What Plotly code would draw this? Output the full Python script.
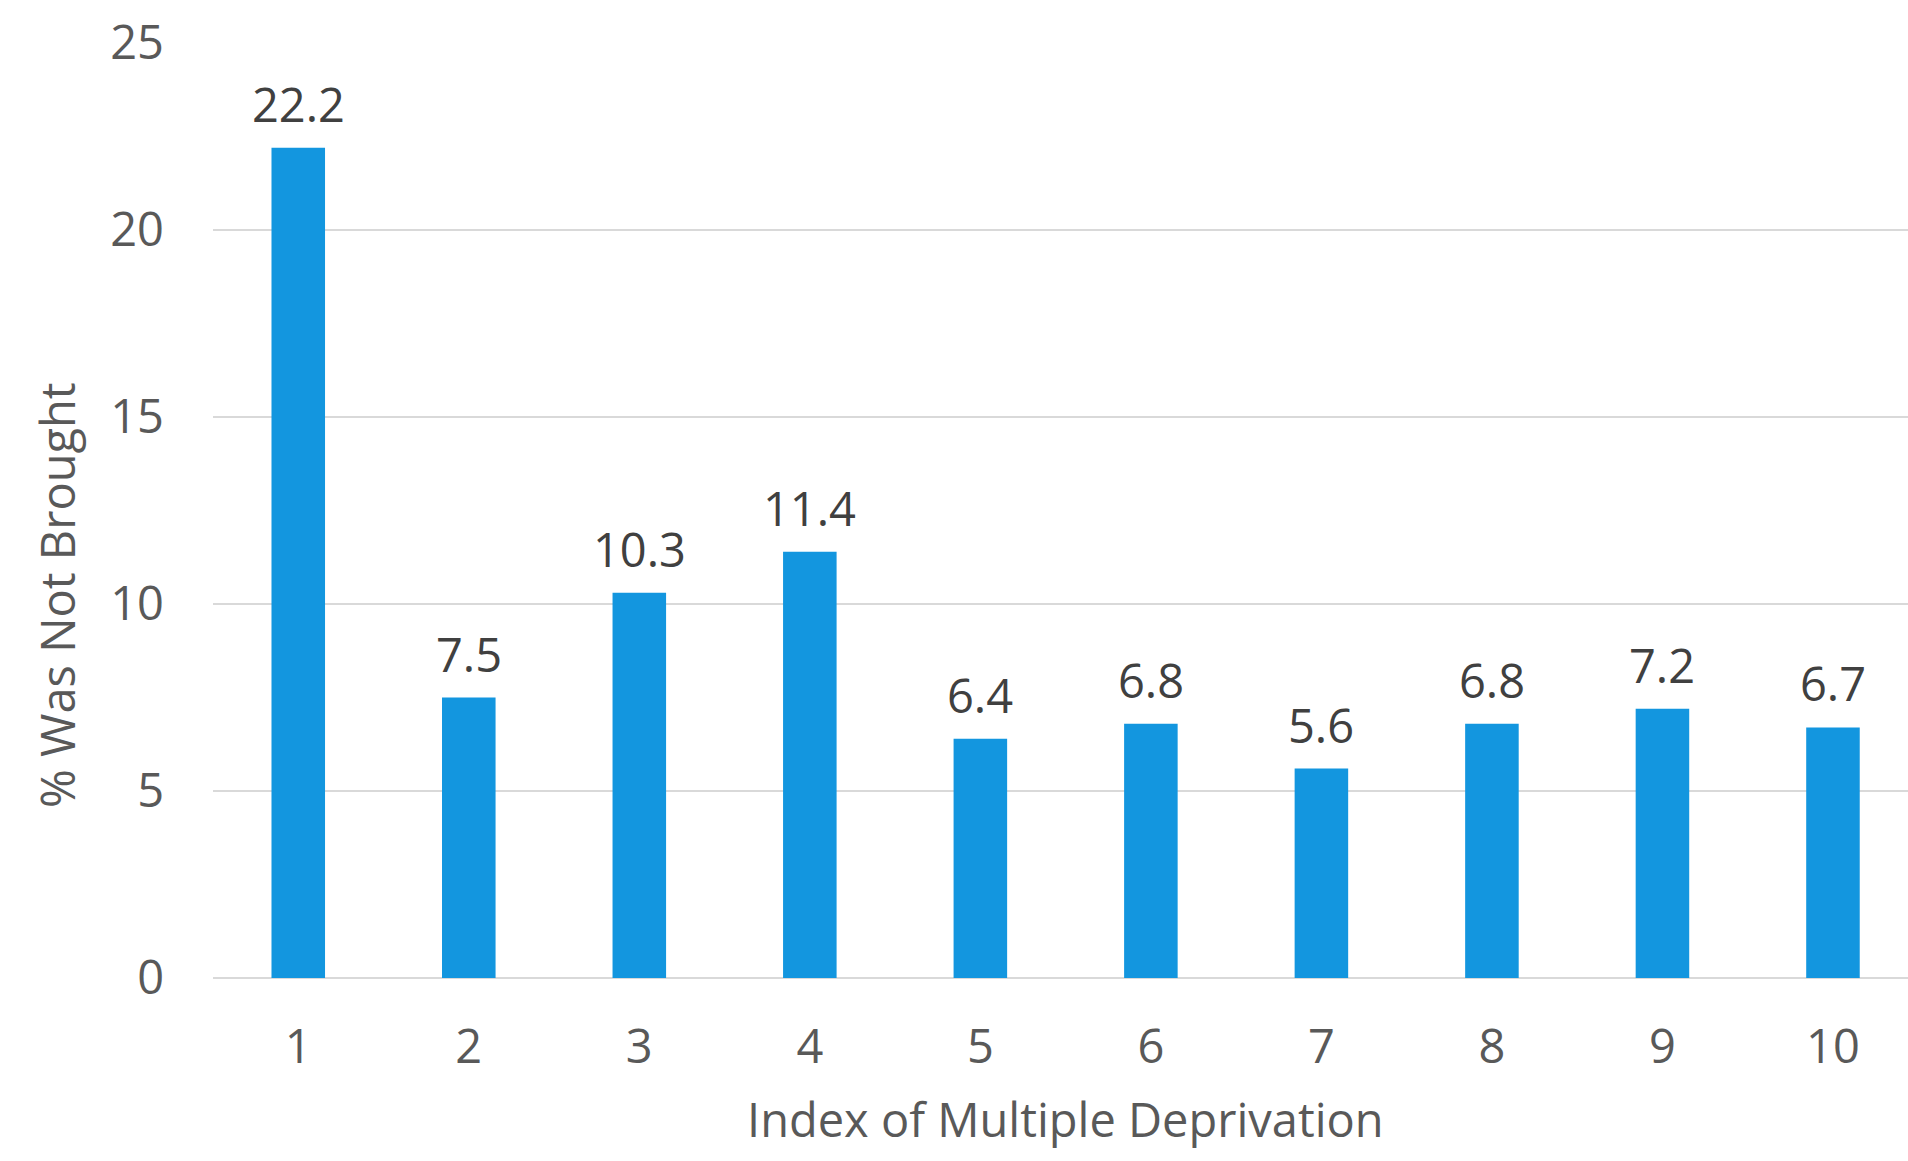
import plotly.graph_objects as go

# Index of Multiple Deprivation deciles and the share of appointments "Was Not Brought"
deciles = ["1", "2", "3", "4", "5", "6", "7", "8", "9", "10"]
pct_not_brought = [22.2, 7.5, 10.3, 11.4, 6.4, 6.8, 5.6, 6.8, 7.2, 6.7]
y_ticks = [0, 5, 10, 15, 20, 25]

W, H = 1908, 1161
L, T, B = 213, 43, 183

FONT = "Open Sans"
FS = 47
TICK_GREY = "#595959"
LABEL_GREY = "#404040"
BAR_BLUE = "#1396DF"

fig = go.Figure(
    go.Bar(
        x=list(range(len(deciles))),
        y=pct_not_brought,
        width=0.314,
        marker=dict(color=BAR_BLUE, line=dict(width=0)),
        hoverinfo="skip",
    )
)

# value labels above each bar
for i, v in enumerate(pct_not_brought):
    fig.add_annotation(
        x=i, y=v, text=f"{v}", showarrow=False,
        xanchor="center", yanchor="bottom", yshift=10,
        font=dict(family=FONT, size=FS, color=LABEL_GREY),
    )

# axis titles
fig.add_annotation(
    xref="paper", yref="paper",
    x=(1065 - L) / (W - L), y=1 - (1119 - T) / (H - T - B),
    text="Index of Multiple Deprivation", showarrow=False,
    xanchor="center", yanchor="middle",
    font=dict(family=FONT, size=FS, color=TICK_GREY),
)
fig.add_annotation(
    xref="paper", yref="paper",
    x=(57 - L) / (W - L), y=1 - (595 - T) / (H - T - B),
    text="% Was Not Brought", showarrow=False, textangle=-90,
    xanchor="center", yanchor="middle",
    font=dict(family=FONT, size=FS, color=TICK_GREY),
)

fig.update_layout(
    width=W, height=H,
    margin=dict(l=L, r=0, t=T, b=B, pad=0),
    paper_bgcolor="white", plot_bgcolor="white",
    showlegend=False,
    font=dict(family=FONT, size=FS, color=TICK_GREY),
    xaxis=dict(
        tickmode="array",
        tickvals=list(range(len(deciles))),
        ticktext=deciles,
        range=[-0.5, 9.44],
        showgrid=False, zeroline=False,
        showline=False, ticks="",
        ticklabelstandoff=37,
        tickfont=dict(family=FONT, size=FS, color=TICK_GREY),
        fixedrange=True,
    ),
    yaxis=dict(
        range=[0, 25],
        tickmode="array", tickvals=y_ticks,
        showgrid=True, gridcolor="#D9D9D9", gridwidth=2,
        zeroline=True, zerolinecolor="#D9D9D9", zerolinewidth=2,
        showline=False, ticks="",
        ticklabelstandoff=48,
        tickfont=dict(family=FONT, size=FS, color=TICK_GREY),
        fixedrange=True,
    ),
)

fig.write_html("out.html")
